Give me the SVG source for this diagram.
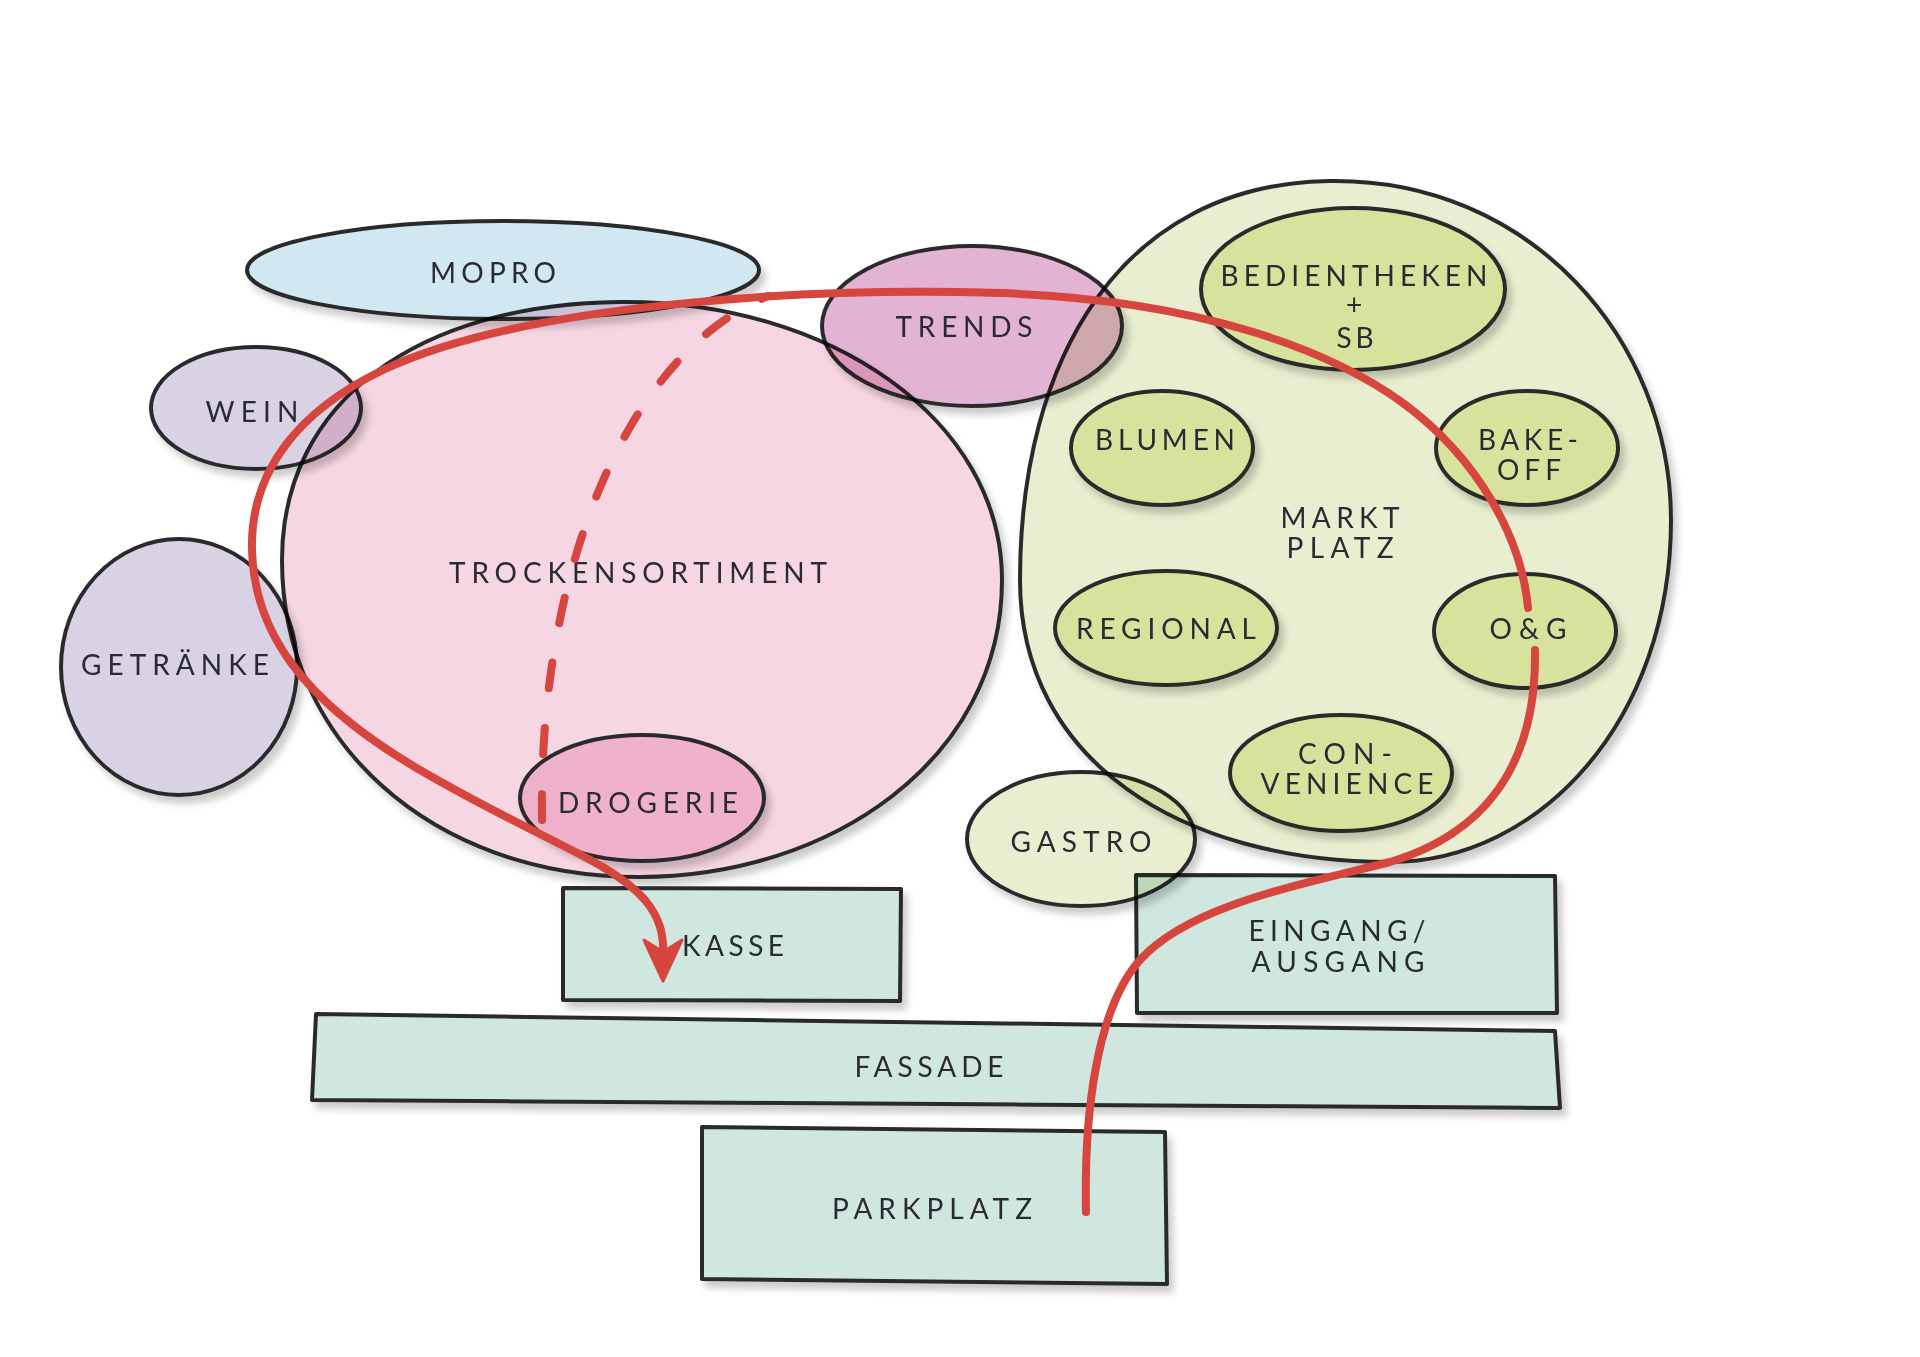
<svg xmlns="http://www.w3.org/2000/svg" width="1920" height="1357" viewBox="0 0 1920 1357">
<defs>
<filter id="sh" x="-10%" y="-10%" width="125%" height="130%">
<feDropShadow dx="5" dy="7" stdDeviation="3.5" flood-color="#000" flood-opacity="0.2"/>
</filter>
<style>
.o{stroke:#2b2b2b;stroke-width:4;stroke-linejoin:round}
.t{font-family:Lato,"Open Sans","Liberation Sans",sans-serif;font-size:28px;fill:#2a2a30;text-anchor:middle}
.m{mix-blend-mode:multiply}
.rd{fill:none;stroke:#d6463f;stroke-width:8;stroke-linecap:round;stroke-linejoin:round}
.mopro{fill:#d1e8f3}
.trock{fill:#f6d6e2}
.lav{fill:#d9d1e4}
.trends{fill:#e2b3d2}
.drog{fill:#efb1cb}
.markt{fill:#e9eed0}
.grn{fill:#d7e39d}
.box{fill:#d0e7e0}
</style>
</defs>
<rect width="1920" height="1357" fill="#ffffff"/>
<g id="nodes">
<g id="marktplatz" filter="url(#sh)">
<path class="o markt" d="M1330 181 C1530 178,1671 340,1671 520 C1671 720,1540 862,1390 862 C1180 862,1020 760,1020 580 C1020 360,1120 184,1330 181 Z"/>
<text class="t" x="1340" y="528" textLength="119">MARKT</text>
<text class="t" x="1340" y="558" textLength="107">PLATZ</text>
</g>
<g id="bedientheken" filter="url(#sh)">
<ellipse class="o grn" cx="1353" cy="289" rx="152" ry="81"/>
<text class="t" x="1354" y="286" textLength="267">BEDIENTHEKEN</text>
<text class="t" x="1354" y="315">+</text>
<text class="t" x="1355" y="348" textLength="37">SB</text>
</g>
<g id="blumen" filter="url(#sh)">
<ellipse class="o grn" cx="1162" cy="448" rx="91" ry="57"/>
<text class="t" x="1165" y="450" textLength="140">BLUMEN</text>
</g>
<g id="bakeoff" filter="url(#sh)">
<ellipse class="o grn" cx="1527" cy="448" rx="91" ry="57"/>
<text class="t" x="1528" y="450" textLength="100">BAKE-</text>
<text class="t" x="1529" y="480" textLength="64">OFF</text>
</g>
<g id="regional" filter="url(#sh)">
<ellipse class="o grn" cx="1166" cy="628" rx="111" ry="57"/>
<text class="t" x="1166" y="639" textLength="180">REGIONAL</text>
</g>
<g id="og" filter="url(#sh)">
<ellipse class="o grn" cx="1525" cy="631" rx="91" ry="57"/>
<text class="t" x="1528" y="639" textLength="77">O&amp;G</text>
</g>
<g id="convenience" filter="url(#sh)">
<ellipse class="o grn" cx="1341" cy="773" rx="111" ry="58"/>
<text class="t" x="1345" y="764" textLength="94">CON-</text>
<text class="t" x="1347" y="794" textLength="173">VENIENCE</text>
</g>
<g id="trockensortiment" filter="url(#sh)">
<path class="o trock" d="M620 302 C830 300,1002 420,1002 580 C1002 760,830 877,640 877 C430 877,282 740,282 560 C282 400,420 304,620 302 Z"/>
<text class="t" x="638" y="583" textLength="378">TROCKENSORTIMENT</text>
</g>
<g id="drogerie" filter="url(#sh)">
<ellipse class="o drog" cx="642" cy="798" rx="122" ry="63"/>
<text class="t" x="648" y="813" textLength="180">DROGERIE</text>
</g>
<g id="mopro" class="m" filter="url(#sh)">
<ellipse class="o mopro" cx="503" cy="270" rx="256" ry="49"/>
<text class="t" x="493" y="283" textLength="126">MOPRO</text>
</g>
<g id="wein" class="m" filter="url(#sh)">
<ellipse class="o lav" cx="256" cy="408" rx="105" ry="61"/>
<text class="t" x="252" y="422" textLength="93">WEIN</text>
</g>
<g id="getraenke" class="m" filter="url(#sh)">
<ellipse class="o lav" cx="179" cy="667" rx="118" ry="128"/>
<text class="t" x="175" y="675" textLength="188">GETRÄNKE</text>
</g>
<g id="trends" class="m" filter="url(#sh)">
<ellipse class="o trends" cx="972" cy="326" rx="150" ry="80"/>
<text class="t" x="964" y="337" textLength="137">TRENDS</text>
</g>
<g id="kasse" filter="url(#sh)">
<path class="o box" d="M563 888 L901 889 L900 1001 L563 1000 Z"/>
<text class="t" x="733" y="956" textLength="102">KASSE</text>
</g>
<g id="eingang" filter="url(#sh)">
<path class="o box" d="M1136 875 L1555 876 L1557 1013 L1137 1013 Z"/>
<text class="t" x="1337" y="941" textLength="177">EINGANG/</text>
<text class="t" x="1338" y="972" textLength="173">AUSGANG</text>
</g>
<g id="fassade" filter="url(#sh)">
<path class="o box" d="M316 1014 L1555 1031 L1560 1108 L312 1100 Z"/>
<text class="t" x="929" y="1077" textLength="149">FASSADE</text>
</g>
<g id="parkplatz" filter="url(#sh)">
<path class="o box" d="M702 1127 L1165 1132 L1167 1284 L702 1279 Z"/>
<text class="t" x="932" y="1219" textLength="200">PARKPLATZ</text>
</g>
<g id="gastro" class="m" filter="url(#sh)">
<ellipse class="o markt" cx="1081" cy="839" rx="114" ry="67"/>
<text class="t" x="1081" y="852" textLength="141">GASTRO</text>
</g>
</g>
<g id="connectors">
<path class="rd" d="M1086 1212 C1084 1120,1095 1010,1140 960 C1190 905,1300 885,1390 862 C1480 835,1537 770,1535 650"/>
<path class="rd" d="M1528 608 C1522 540,1480 460,1403 403 C1330 350,1200 300,1000 293 C800 287,520 305,383 370 C300 410,250 470,252 550 C254 630,300 700,420 770 C540 840,610 860,645 900 C660 918,664 935,663 955"/>
<path d="M663 981 L644 940 L663 952 L682 940 Z" fill="#d6463f" stroke="#d6463f" stroke-width="3" stroke-linejoin="round"/>
<path class="rd" d="M542 820 C540 700,560 560,620 445 C660 370,710 320,768 296" stroke-width="10" stroke-dasharray="26 40"/>
</g>
</svg>
